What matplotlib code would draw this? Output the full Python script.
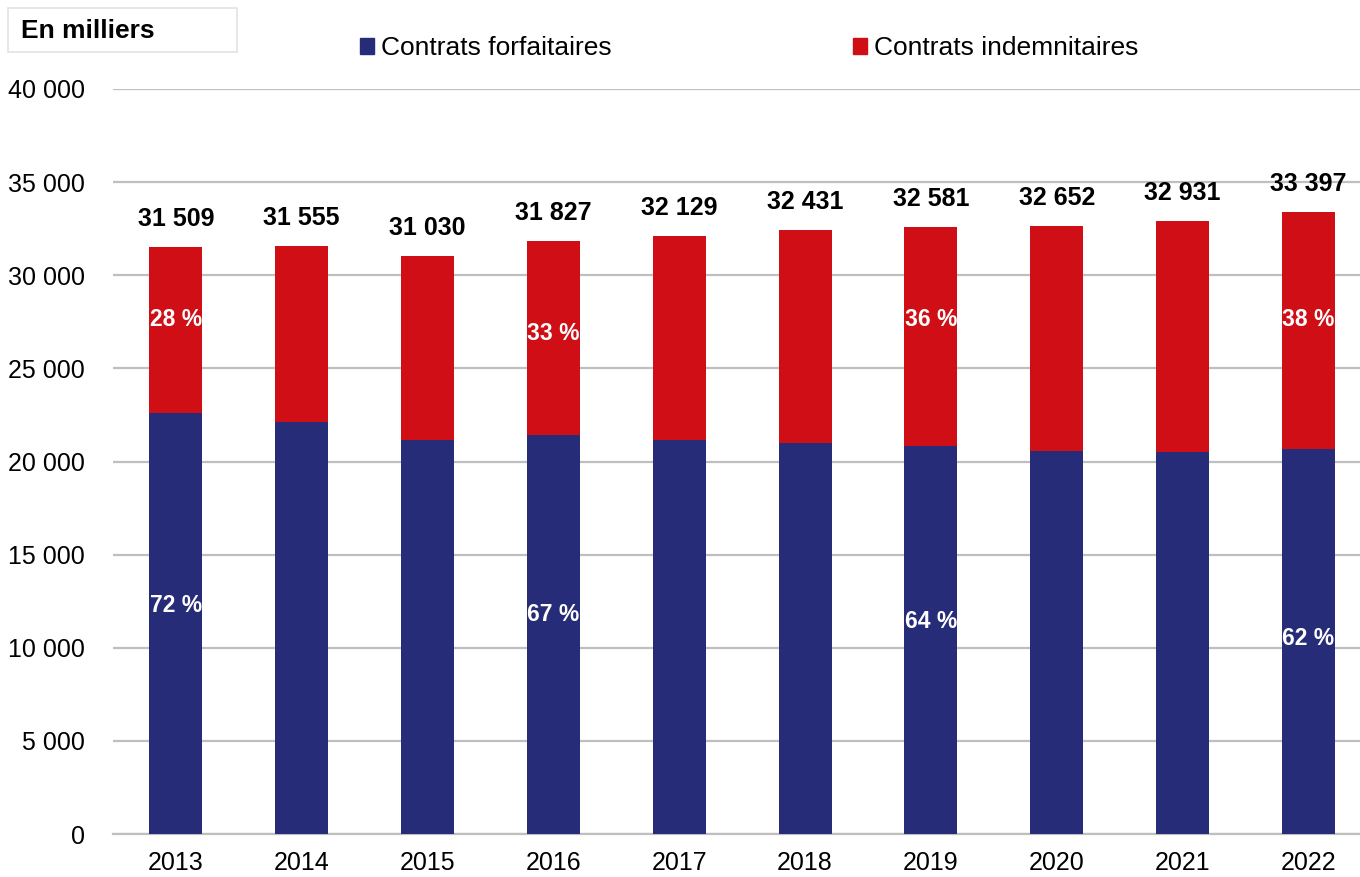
import matplotlib
matplotlib.use("Agg")
import matplotlib.pyplot as plt
from matplotlib.patches import Patch, Rectangle
import numpy as np

plt.rcParams['font.family'] = ['Liberation Sans', 'DejaVu Sans']

years = ["2013", "2014", "2015", "2016", "2017", "2018", "2019", "2020", "2021", "2022"]
totals = [31509, 31555, 31030, 31827, 32129, 32431, 32581, 32652, 32931, 33397]
forfaitaires = [22600, 22130, 21150, 21400, 21150, 20970, 20840, 20590, 20520, 20660]
indemnitaires = [t - f for t, f in zip(totals, forfaitaires)]

# share labels shown only on some years
pct_idx = [0, 3, 6, 9]
pct_forf = ["72 %", "67 %", "64 %", "62 %"]
pct_indem = ["28 %", "33 %", "36 %", "38 %"]
pct_forf_y = [12250, 11800, 11430, 10520]
pct_indem_y = [27600, 26850, 27600, 27600]

blue = "#272C78"
red = "#CF0E16"

fig = plt.figure(figsize=(13.6, 8.77), dpi=100)
ax = fig.add_axes([113 / 1360, 43 / 877, 1 - 113 / 1360, (834 - 89) / 877])

x = np.arange(len(years))
ax.bar(x, forfaitaires, width=0.42, color=blue, zorder=3)
ax.bar(x, indemnitaires, width=0.42, bottom=forfaitaires, color=red, zorder=3)

for i, t in enumerate(totals):
    ax.text(x[i], t + 850, f"{t:,}".replace(",", " "), ha="center", va="bottom",
            fontsize=18, fontweight="bold", color="black")

for k, i in enumerate(pct_idx):
    ax.text(x[i], pct_forf_y[k], pct_forf[k], ha="center", va="center",
            fontsize=16.5, fontweight="bold", color="white", zorder=4)
    ax.text(x[i], pct_indem_y[k], pct_indem[k], ha="center", va="center",
            fontsize=16.5, fontweight="bold", color="white", zorder=4)

ax.set_ylim(0, 40000)
ax.set_xlim(-0.5, 9.41)
ax.set_yticks(range(0, 40001, 5000))
ax.set_yticklabels([f"{v:,}".replace(",", " ") for v in range(0, 40001, 5000)])
ax.set_xticks(x)
ax.set_xticklabels(years)
ax.tick_params(axis="both", length=0, labelsize=18)
ax.tick_params(axis="x", pad=12.5)
ax.tick_params(axis="y", pad=20)
ax.yaxis.grid(True, color="#BFBFBF", linewidth=1.6, zorder=0)
for s in ["top", "right", "left"]:
    ax.spines[s].set_visible(False)
ax.spines["bottom"].set_color("#BFBFBF")
ax.spines["bottom"].set_linewidth(1.6)

handles = [Patch(color=blue, label="Contrats forfaitaires"),
           Patch(color=red, label="Contrats indemnitaires")]
fig.legend(handles=handles, loc="center left", bbox_to_anchor=(336 / 1360, 1 - 48 / 877),
           ncol=2, frameon=False, fontsize=19, handlelength=0.55, handleheight=0.55,
           handletextpad=0.25, columnspacing=9.15)

fig.add_artist(Rectangle((8 / 1360, 1 - 52 / 877), 229 / 1360, 44 / 877,
                         transform=fig.transFigure, facecolor="white",
                         edgecolor="#E3E3E3", linewidth=1.2))
fig.text(21 / 1360, 1 - 31 / 877, "En milliers", fontsize=19, fontweight="bold",
         va="center", ha="left")

fig.savefig("out.png", dpi=100)
